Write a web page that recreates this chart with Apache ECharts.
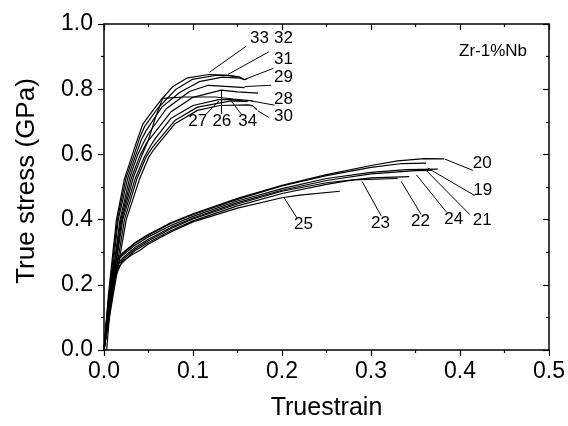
<!DOCTYPE html>
<html>
<head>
<meta charset="utf-8">
<script src="https://cdn.jsdelivr.net/npm/echarts@6/dist/echarts.min.js"></script>
<style>
  html, body { margin: 0; padding: 0; background: #fff; }
  #chart { width: 568px; height: 426px; }
</style>
</head>
<body>
<div id="chart"></div>
<script>
// x tick labels / y tick labels
const xTicks = [0, 0.1, 0.2, 0.3, 0.4, 0.5]
const yTicks = [0, 0.2, 0.4, 0.6, 0.8, 1.0]

// lower group: [strain, stress]
const c20 = [[0,0],[0.004,0.12],[0.008,0.22],[0.012,0.27],[0.02,0.295],[0.035,0.33],[0.05,0.355],[0.075,0.39],[0.1,0.418],[0.15,0.465],[0.2,0.505],[0.25,0.538],[0.3,0.566],[0.33,0.58],[0.36,0.587],[0.382,0.586]]
const c19 = [[0,0],[0.003,0.1],[0.007,0.2],[0.011,0.265],[0.02,0.292],[0.035,0.328],[0.05,0.352],[0.075,0.388],[0.1,0.415],[0.15,0.462],[0.2,0.503],[0.25,0.535],[0.3,0.56],[0.335,0.572],[0.362,0.573]]
const c21 = [[0,0],[0.004,0.11],[0.009,0.22],[0.013,0.268],[0.02,0.288],[0.035,0.322],[0.05,0.347],[0.075,0.382],[0.1,0.41],[0.15,0.457],[0.2,0.495],[0.25,0.526],[0.3,0.545],[0.34,0.553],[0.375,0.555]]
const c24 = [[0.003,0],[0.006,0.1],[0.01,0.2],[0.014,0.262],[0.022,0.285],[0.035,0.315],[0.05,0.34],[0.075,0.376],[0.1,0.405],[0.15,0.452],[0.2,0.49],[0.25,0.52],[0.3,0.54],[0.35,0.55],[0.368,0.551]]
const c22 = [[0,0],[0.005,0.12],[0.01,0.21],[0.015,0.26],[0.023,0.282],[0.035,0.31],[0.05,0.335],[0.075,0.372],[0.1,0.402],[0.15,0.448],[0.2,0.487],[0.25,0.513],[0.3,0.528],[0.343,0.532]]
const c23 = [[0,0],[0.006,0.11],[0.012,0.22],[0.016,0.255],[0.025,0.28],[0.035,0.305],[0.05,0.33],[0.075,0.366],[0.1,0.396],[0.15,0.442],[0.2,0.48],[0.25,0.508],[0.28,0.522],[0.33,0.526]]
const c25 = [[0,0],[0.005,0.1],[0.012,0.22],[0.02,0.27],[0.03,0.29],[0.04,0.305],[0.05,0.325],[0.075,0.362],[0.1,0.393],[0.15,0.435],[0.2,0.467],[0.22,0.475],[0.265,0.487]]

// upper group
const c33 = [[0,0],[0.005,0.17],[0.01,0.3],[0.014,0.4],[0.023,0.525],[0.032,0.6],[0.038,0.65],[0.0436,0.693],[0.055,0.735],[0.065,0.77],[0.0773,0.808],[0.094,0.835],[0.118,0.845],[0.137,0.843],[0.15,0.838]]
const c32 = [[0,0],[0.006,0.18],[0.015,0.4],[0.025,0.53],[0.034,0.6],[0.04,0.65],[0.0455,0.685],[0.06,0.74],[0.081,0.8],[0.099,0.83],[0.125,0.842],[0.14,0.842],[0.152,0.838],[0.158,0.829],[0.161,0.832]]
const c31 = [[0,0],[0.007,0.18],[0.016,0.4],[0.027,0.53],[0.036,0.6],[0.042,0.645],[0.0473,0.673],[0.065,0.745],[0.085,0.79],[0.107,0.823],[0.133,0.837],[0.153,0.834],[0.158,0.829]]
const c29 = [[0,0],[0.008,0.19],[0.018,0.4],[0.029,0.53],[0.038,0.6],[0.046,0.645],[0.051,0.668],[0.07,0.74],[0.096,0.793],[0.117,0.812],[0.141,0.808],[0.158,0.805]]
const c26 = [[0,0],[0.008,0.18],[0.019,0.4],[0.031,0.53],[0.041,0.6],[0.049,0.64],[0.055,0.66],[0.075,0.73],[0.1,0.775],[0.1317,0.797],[0.15,0.792],[0.173,0.788]]
const c28 = [[0,0],[0.009,0.19],[0.02,0.4],[0.033,0.53],[0.043,0.6],[0.05,0.645],[0.058,0.715],[0.066,0.772],[0.09,0.776],[0.125,0.776],[0.145,0.77],[0.167,0.764]]
const c27 = [[0,0],[0.009,0.18],[0.021,0.4],[0.035,0.525],[0.045,0.59],[0.052,0.625],[0.058,0.65],[0.075,0.71],[0.1,0.75],[0.129,0.768],[0.145,0.768],[0.16,0.762]]
const c34 = [[0,0],[0.01,0.18],[0.023,0.4],[0.037,0.525],[0.047,0.59],[0.054,0.62],[0.06,0.64],[0.08,0.705],[0.105,0.745],[0.1429,0.764],[0.162,0.763]]
const c30 = [[0,0],[0.011,0.18],[0.025,0.4],[0.04,0.525],[0.05,0.59],[0.056,0.615],[0.062,0.635],[0.08,0.695],[0.105,0.735],[0.13,0.75],[0.162,0.752],[0.167,0.749],[0.172,0.737]]

const curves = [c20, c19, c21, c24, c22, c23, c25, c33, c32, c31, c29, c26, c28, c27, c34, c30]

// specimen numbers and their leader lines (data coords)
const labelText = ['20', '19', '21', '24', '22', '23', '25', '33', '32', '31', '29', '28', '30', '27', '26', '34']
const labelPos = [[0.425,0.574],[0.4256,0.4905],[0.425,0.398],[0.393,0.401],[0.3556,0.395],[0.3107,0.388],[0.2242,0.385],[0.1747,0.957],[0.2017,0.957],[0.2017,0.891],[0.2017,0.835],[0.2017,0.769],[0.2017,0.7165],[0.1054,0.703],[0.1324,0.703],[0.1616,0.703]]
const leaderFrom = [[0.3826,0.586],[0.3638,0.558],[0.362,0.551],[0.351,0.5375],[0.334,0.517],[0.29,0.517],[0.2017,0.4695],[0.1185,0.852],[0.1391,0.845],[0.1579,0.83],[0.1579,0.808],[0.1654,0.764],[0.1728,0.7335],[0.129,0.764],[0.1317,0.7945],[0.1429,0.764]]
const leaderTo = [[0.4144,0.551],[0.4163,0.474],[0.411,0.4155],[0.3845,0.424],[0.3564,0.4155],[0.3114,0.4116],[0.2167,0.4055],[0.1598,0.932],[0.1852,0.9146],[0.1904,0.864],[0.1878,0.812],[0.1916,0.751],[0.1852,0.7134],[0.1148,0.7235],[0.1317,0.7235],[0.1542,0.7235]]

const FONT = 'Liberation Sans, Arial, sans-serif'

const chart = echarts.init(document.getElementById('chart'))

const axisLine = { show: true, onZero: false, lineStyle: { color: '#000', width: 1.5 } }

const series = curves.map((d) => ({
  type: 'line',
  data: d,
  showSymbol: false,
  symbol: 'none',
  lineStyle: { color: '#000', width: 1.2 },
  silent: true,
}))

series.push({
  type: 'lines',
  coordinateSystem: 'cartesian2d',
  data: leaderFrom.map((p, i) => ({ coords: [p, leaderTo[i]] })),
  lineStyle: { color: '#000', width: 1, opacity: 1 },
  silent: true,
})

series.push({
  type: 'scatter',
  symbolSize: 0,
  itemStyle: { opacity: 1 },
  data: labelPos.map((p, i) => ({ name: labelText[i], value: p })),
  label: {
    show: true,
    position: 'inside',
    formatter: '{b}',
    color: '#000',
    opacity: 1,
    fontSize: 17,
    fontFamily: FONT,
  },
  silent: true,
})

chart.setOption({
  animation: false,
  backgroundColor: '#fff',
  title: {
    text: 'Zr-1%Nb',
    right: 36,
    top: 38,
    textStyle: { fontSize: 17, fontWeight: 'normal', color: '#000', fontFamily: FONT },
  },
  grid: { left: 104, right: 18, top: 24, bottom: 74 },
  xAxis: [
    {
      type: 'value',
      position: 'bottom',
      min: xTicks[0],
      max: xTicks[xTicks.length - 1],
      interval: 0.1,
      axisLine,
      axisTick: { show: true, inside: false, length: 6, lineStyle: { color: '#000', width: 1.2 } },
      minorTick: { show: true, splitNumber: 2, length: 3, lineStyle: { color: '#000', width: 1.2 } },
      splitLine: { show: false },
      axisLabel: {
        margin: 10,
        color: '#000',
        fontSize: 23,
        fontFamily: FONT,
        formatter: (v) => v.toFixed(1),
      },
      name: 'Truestrain',
      nameLocation: 'middle',
      nameGap: 46,
      nameTextStyle: { color: '#000', fontSize: 25, fontFamily: FONT },
    },
    {
      type: 'value',
      position: 'top',
      min: xTicks[0],
      max: xTicks[xTicks.length - 1],
      interval: 0.1,
      axisLine,
      axisTick: { show: true, inside: true, length: 6, lineStyle: { color: '#000', width: 1.2 } },
      minorTick: { show: true, splitNumber: 2, length: 3, lineStyle: { color: '#000', width: 1.2 } },
      splitLine: { show: false },
      axisLabel: { show: false },
    },
  ],
  yAxis: [
    {
      type: 'value',
      position: 'left',
      min: yTicks[0],
      max: yTicks[yTicks.length - 1],
      interval: 0.2,
      axisLine,
      axisTick: { show: true, inside: false, length: 6, lineStyle: { color: '#000', width: 1.2 } },
      minorTick: { show: true, splitNumber: 2, length: 3, lineStyle: { color: '#000', width: 1.2 } },
      splitLine: { show: false },
      axisLabel: {
        margin: 11,
        color: '#000',
        fontSize: 23,
        fontFamily: FONT,
        formatter: (v) => v.toFixed(1),
      },
      name: 'True stress (GPa)',
      nameLocation: 'middle',
      nameGap: 64,
      nameTextStyle: { color: '#000', fontSize: 26, fontFamily: FONT, padding: [0, 0, 0, 12] },
    },
    {
      type: 'value',
      position: 'right',
      min: yTicks[0],
      max: yTicks[yTicks.length - 1],
      interval: 0.2,
      axisLine,
      axisTick: { show: true, inside: true, length: 6, lineStyle: { color: '#000', width: 1.2 } },
      minorTick: { show: true, splitNumber: 2, length: 3, lineStyle: { color: '#000', width: 1.2 } },
      splitLine: { show: false },
      axisLabel: { show: false },
    },
  ],
  series,
})
</script>
</body>
</html>
